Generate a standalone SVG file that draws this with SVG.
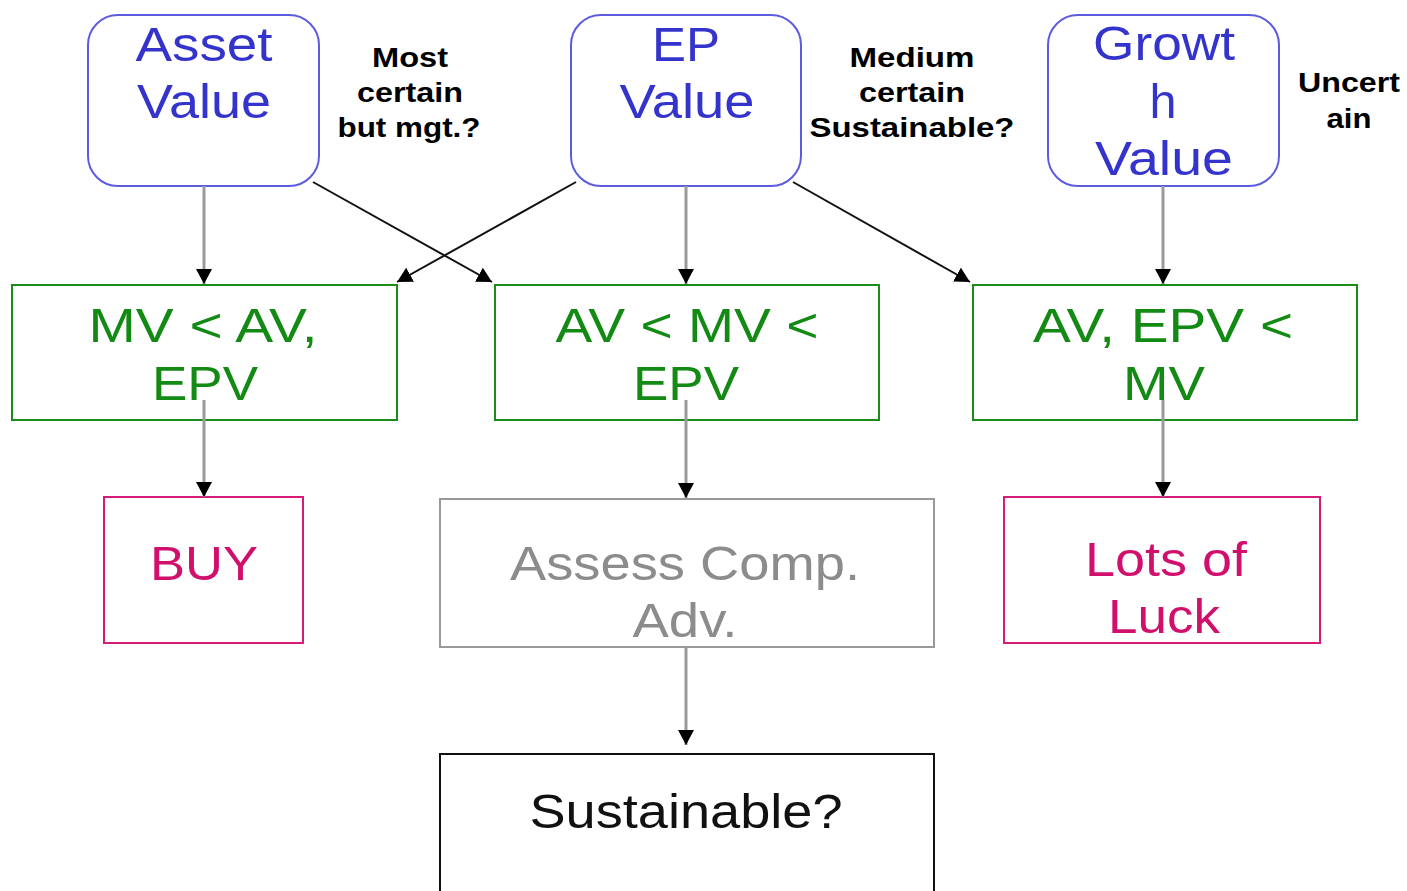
<svg xmlns="http://www.w3.org/2000/svg" width="1407" height="891" viewBox="0 0 1407 891">
  <defs>
    <marker id="arrow" markerUnits="userSpaceOnUse" markerWidth="16" markerHeight="16" refX="15" refY="8" orient="auto">
      <path d="M0,0 L15,8 L0,16 z" fill="#000"/>
    </marker>
    <style>
      text { font-family: "Liberation Sans", Arial, sans-serif; text-anchor: middle; }
      .big { font-size: 48px; }
      .note { font-size: 27px; font-weight: bold; fill: #000; }
      .value rect { fill: #fff; stroke: #5c5ce0; stroke-width: 2; }
      .value text { fill: #3434cc; }
      .cond rect { fill: #fff; stroke: #1a8c1a; stroke-width: 2; }
      .cond text { fill: #138a13; }
      .act rect { fill: #fff; stroke: #d81b78; stroke-width: 2; }
      .act text { fill: #d0106c; }
      .assess rect { fill: #fff; stroke: #999; stroke-width: 2; }
      .assess text { fill: #8c8c8c; }
      .final rect { fill: #fff; stroke: #111; stroke-width: 2; }
      .final text { fill: #111; }
      .down { stroke: #9a9a9a; stroke-width: 3; fill: none; marker-end: url(#arrow); }
      .cross { stroke: #111; stroke-width: 2; fill: none; marker-end: url(#arrow); }
    </style>
  </defs>
  <rect width="1407" height="891" fill="#fff"/>

  <!-- value sources -->
  <g id="asset-value" class="value">
    <rect x="88" y="15" width="231" height="171" rx="30"/>
    <text class="big" x="204" y="61" textLength="137" lengthAdjust="spacingAndGlyphs">Asset</text>
    <text class="big" x="204" y="118" textLength="134" lengthAdjust="spacingAndGlyphs">Value</text>
  </g>
  <g id="asset-note">
    <text class="note" x="410" y="67" textLength="76" lengthAdjust="spacingAndGlyphs">Most</text>
    <text class="note" x="410" y="102" textLength="106" lengthAdjust="spacingAndGlyphs">certain</text>
    <text class="note" x="409" y="137" textLength="143" lengthAdjust="spacingAndGlyphs">but mgt.?</text>
  </g>

  <g id="ep-value" class="value">
    <rect x="571" y="15" width="230" height="171" rx="30"/>
    <text class="big" x="686" y="61" textLength="68" lengthAdjust="spacingAndGlyphs">EP</text>
    <text class="big" x="687" y="118" textLength="135" lengthAdjust="spacingAndGlyphs">Value</text>
  </g>
  <g id="ep-note">
    <text class="note" x="912" y="67" textLength="125" lengthAdjust="spacingAndGlyphs">Medium</text>
    <text class="note" x="912" y="102" textLength="106" lengthAdjust="spacingAndGlyphs">certain</text>
    <text class="note" x="912" y="137" textLength="205" lengthAdjust="spacingAndGlyphs">Sustainable?</text>
  </g>

  <g id="growth-value" class="value">
    <rect x="1048" y="15" width="231" height="171" rx="30"/>
    <text class="big" x="1164" y="60" textLength="142" lengthAdjust="spacingAndGlyphs">Growt</text>
    <text class="big" x="1163" y="118" textLength="27" lengthAdjust="spacingAndGlyphs">h</text>
    <text class="big" x="1164" y="175" textLength="138" lengthAdjust="spacingAndGlyphs">Value</text>
  </g>
  <g id="growth-note">
    <text class="note" x="1349" y="92" textLength="102" lengthAdjust="spacingAndGlyphs">Uncert</text>
    <text class="note" x="1349" y="128" textLength="45" lengthAdjust="spacingAndGlyphs">ain</text>
  </g>

  <!-- market value comparisons -->
  <g id="mv-below" class="cond">
    <rect x="12" y="285" width="385" height="135"/>
    <text class="big" x="203" y="342" textLength="229" lengthAdjust="spacingAndGlyphs">MV &lt; AV,</text>
    <text class="big" x="205" y="400" textLength="106" lengthAdjust="spacingAndGlyphs">EPV</text>
  </g>
  <g id="mv-between" class="cond">
    <rect x="495" y="285" width="384" height="135"/>
    <text class="big" x="687" y="342" textLength="263" lengthAdjust="spacingAndGlyphs">AV &lt; MV &lt;</text>
    <text class="big" x="686" y="400" textLength="106" lengthAdjust="spacingAndGlyphs">EPV</text>
  </g>
  <g id="mv-above" class="cond">
    <rect x="973" y="285" width="384" height="135"/>
    <text class="big" x="1163" y="342" textLength="260" lengthAdjust="spacingAndGlyphs">AV, EPV &lt;</text>
    <text class="big" x="1164" y="400" textLength="82" lengthAdjust="spacingAndGlyphs">MV</text>
  </g>

  <!-- outcomes -->
  <g id="buy" class="act">
    <rect x="104" y="497" width="199" height="146"/>
    <text class="big" x="204" y="580" textLength="108" lengthAdjust="spacingAndGlyphs">BUY</text>
  </g>
  <g id="assess" class="assess">
    <rect x="440" y="499" width="494" height="148"/>
    <text class="big" x="685" y="580" textLength="350" lengthAdjust="spacingAndGlyphs">Assess Comp.</text>
    <text class="big" x="685" y="637" textLength="105" lengthAdjust="spacingAndGlyphs">Adv.</text>
  </g>
  <g id="luck" class="act">
    <rect x="1004" y="497" width="316" height="146"/>
    <text class="big" x="1166" y="576" textLength="162" lengthAdjust="spacingAndGlyphs">Lots of</text>
    <text class="big" x="1164" y="633" textLength="112" lengthAdjust="spacingAndGlyphs">Luck</text>
  </g>
  <g id="sustainable" class="final">
    <rect x="440" y="754" width="494" height="145"/>
    <text class="big" x="686" y="828" textLength="313" lengthAdjust="spacingAndGlyphs">Sustainable?</text>
  </g>

  <!-- connectors -->
  <g id="connectors">
    <line class="down" x1="204" y1="186" x2="204" y2="284"/>
    <line class="down" x1="686" y1="186" x2="686" y2="284"/>
    <line class="down" x1="1163" y1="186" x2="1163" y2="284"/>
    <line class="cross" x1="313" y1="182" x2="492" y2="282"/>
    <line class="cross" x1="576" y1="182" x2="397" y2="282"/>
    <line class="cross" x1="793" y1="182" x2="970" y2="282"/>
    <line class="down" x1="204" y1="400" x2="204" y2="497"/>
    <line class="down" x1="686" y1="400" x2="686" y2="498"/>
    <line class="down" x1="1163" y1="400" x2="1163" y2="497"/>
    <line class="down" x1="686" y1="647" x2="686" y2="745"/>
  </g>
</svg>
